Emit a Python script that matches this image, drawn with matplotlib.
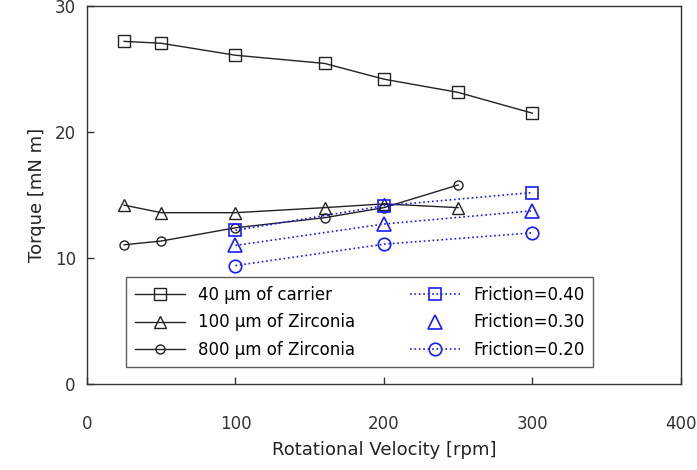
import numpy as np
import matplotlib.pyplot as plt

# measured data
rpm_meas = [25, 50, 100, 160, 200, 250, 300]
torque_40 = [27.2, 27.05, 26.1, 25.45, 24.2, 23.15, 21.5]
rpm_zr = [25, 50, 100, 160, 200, 250]
torque_100 = [14.2, 13.6, 13.6, 14.0, 14.3, 14.0]
torque_800 = [11.05, 11.35, 12.4, 13.2, 14.0, 15.8]

# simulated, friction coefficient
rpm_sim = [100, 200, 300]
fric_040 = [12.2, 14.15, 15.2]
fric_030 = [11.0, 12.7, 13.75]
fric_020 = [9.4, 11.1, 12.0]

plt.rcParams['font.family'] = ['DejaVu Sans']

fig = plt.figure(figsize=(6.97, 4.70), dpi=100)
ax = fig.add_axes([0.1248, 0.183, 0.852, 0.804])

ax.plot(rpm_meas, torque_40, '-s', color='#222222', lw=1, ms=8, mfc='none', mew=1,
        label='40 μm of carrier')
ax.plot(rpm_zr, torque_100, '-^', color='#222222', lw=1, ms=8, mfc='none', mew=1,
        label='100 μm of Zirconia')
ax.plot(rpm_zr, torque_800, '-o', color='#222222', lw=1, ms=6.5, mfc='none', mew=1,
        label='800 μm of Zirconia')

blue = '#1a1aff'
ax.plot(rpm_sim, fric_040, ':s', color=blue, lw=1.2, ms=9, mfc='none', mew=1.2,
        label='Friction=0.40')
ax.plot(rpm_sim, fric_030, ':', color=blue, lw=1.2)
ax.plot(rpm_sim, fric_030, '^', color=blue, ms=10, mfc='none', mew=1.2,
        label='Friction=0.30')
ax.plot(rpm_sim, fric_020, ':o', color=blue, lw=1.2, ms=9, mfc='none', mew=1.2,
        label='Friction=0.20')

ax.set_xlim(0, 400)
ax.set_ylim(0, 30)
ax.set_xticks([0, 100, 200, 300, 400])
ax.set_yticks([0, 10, 20, 30])
ax.tick_params(direction='in', length=5, width=1, labelsize=12, labelcolor='#333333',
               colors='#333333', pad=8)
ax.tick_params(axis='x', pad=22)
for s in ax.spines.values():
    s.set_color('#333333')
    s.set_linewidth(1)

ax.set_xlabel('Rotational Velocity [rpm]', fontsize=13, color='#222222', labelpad=6)
ax.set_ylabel('Torque [mN m]', fontsize=13, color='#222222', labelpad=6)

h, l = ax.get_legend_handles_labels()
leg = ax.legend(h, l, ncol=2, loc='lower left', bbox_to_anchor=(0.052, 0.022),
                fontsize=12, frameon=True, fancybox=False, edgecolor='#333333',
                handlelength=3.0, columnspacing=3.3, labelspacing=0.58,
                borderpad=0.5)
leg.get_frame().set_linewidth(1)

fig.savefig('out.png', dpi=100)
